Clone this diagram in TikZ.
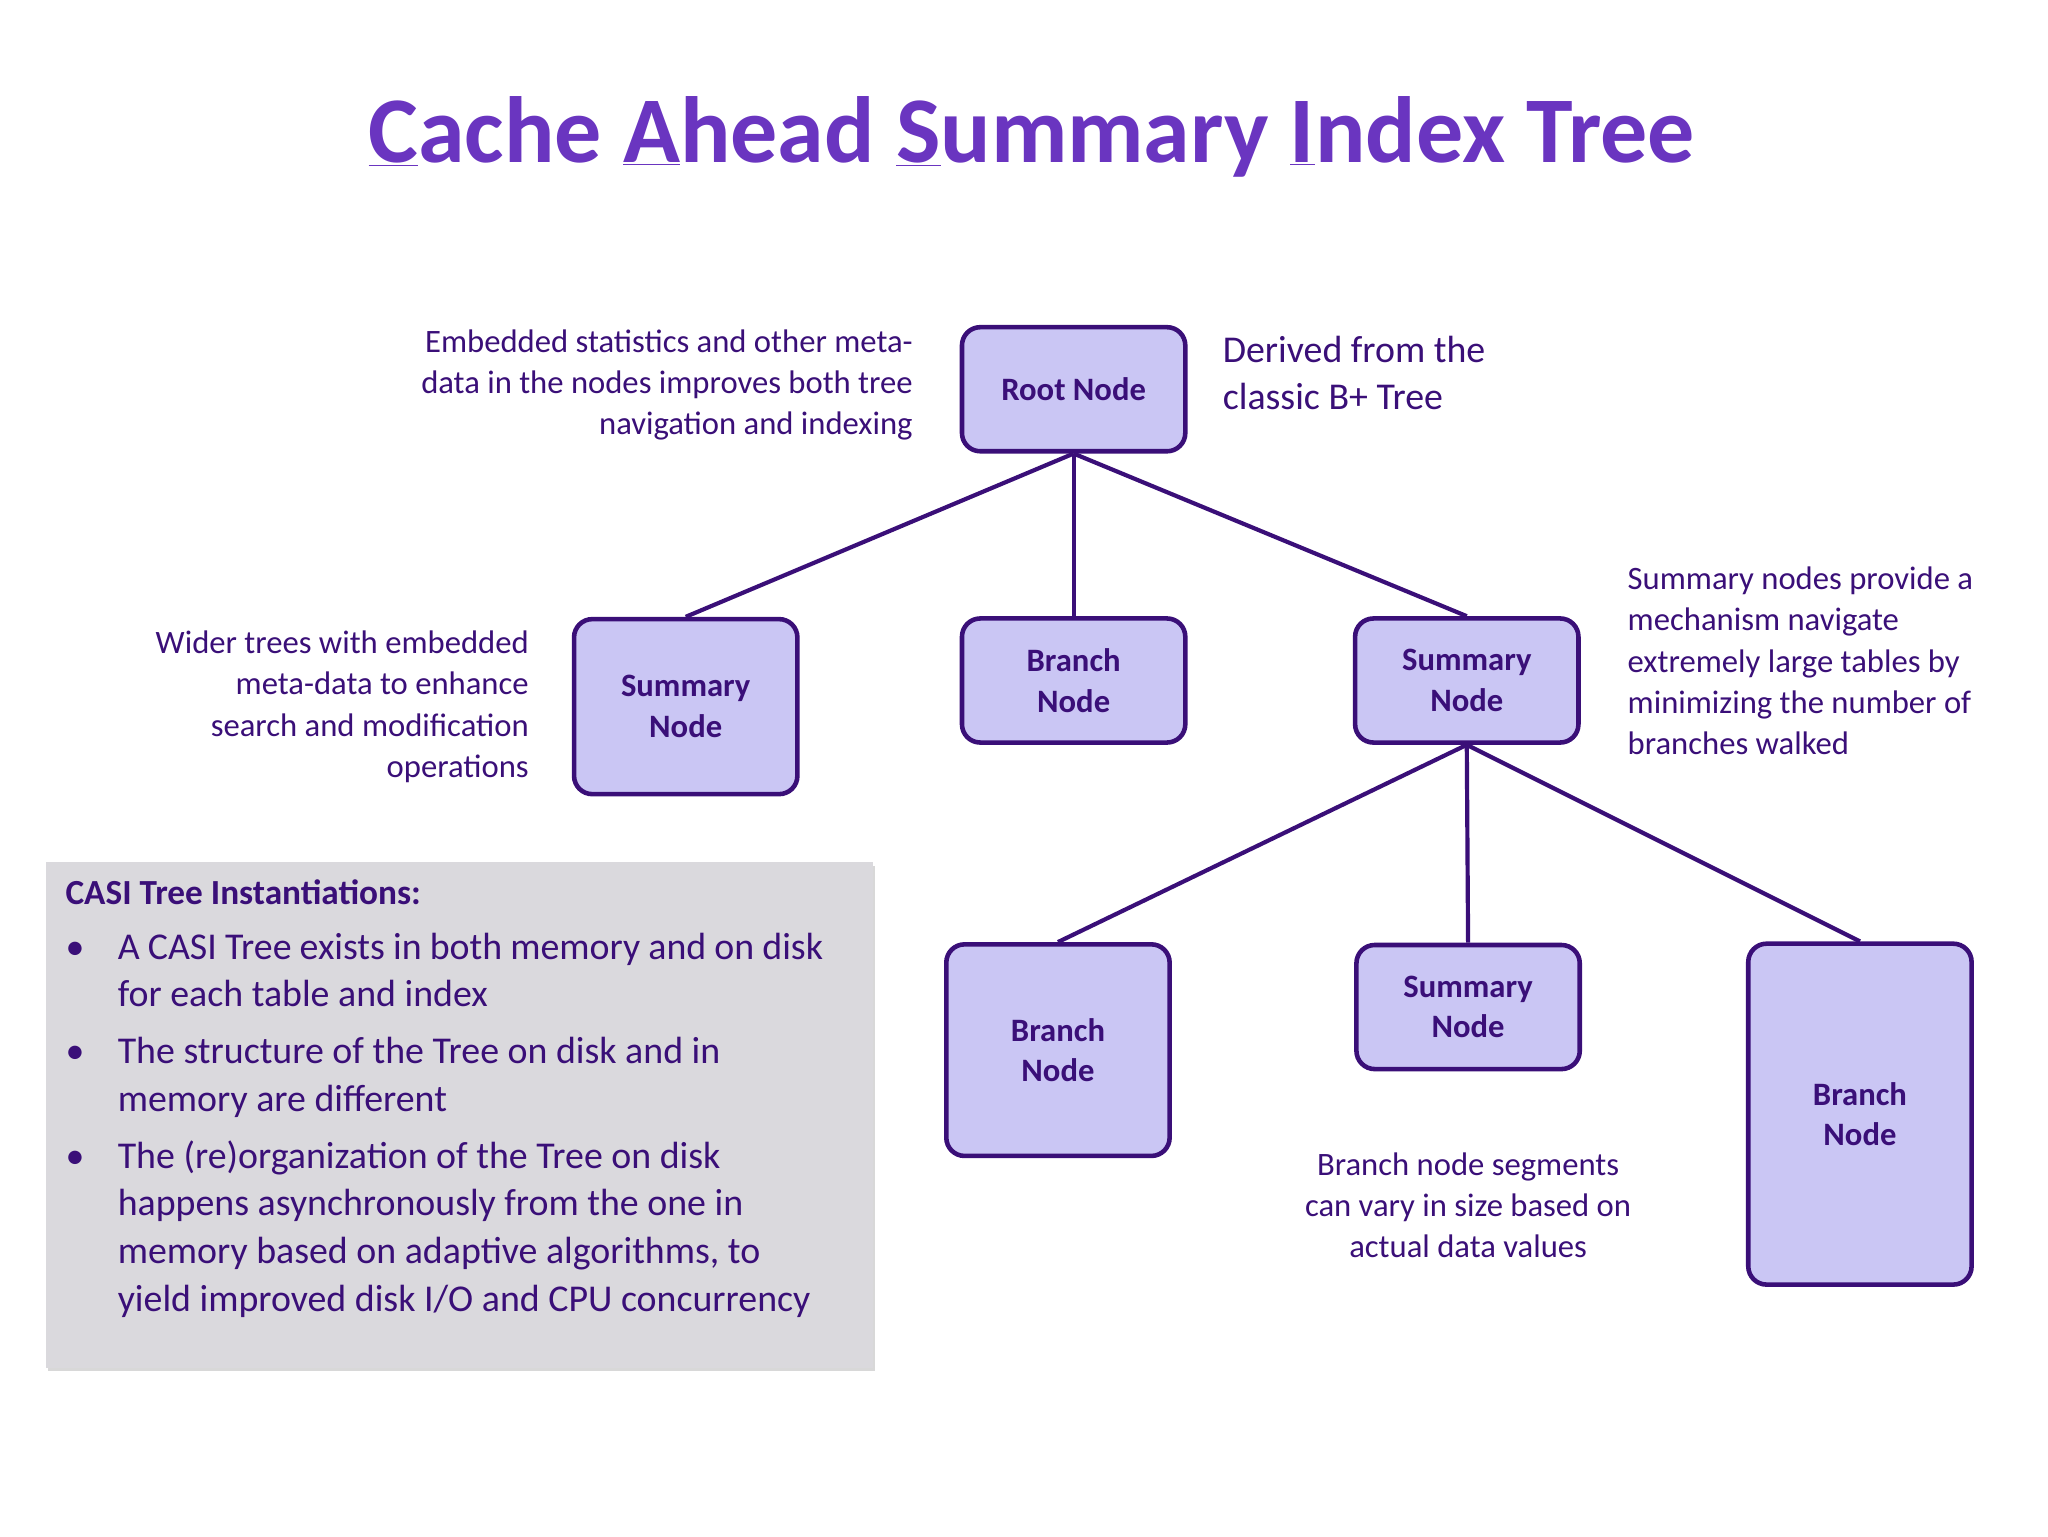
\documentclass[tikz,border=0pt]{standalone}
\usepackage{fontspec}
\setmainfont{Carlito}
\usetikzlibrary{shadows}
\definecolor{tpurple}{HTML}{6A35C0}
\definecolor{dpurple}{HTML}{3A0F78}
\definecolor{tfill}{HTML}{CAC6F4}
\definecolor{gbox}{HTML}{DAD9DD}
\newcommand{\ulx}[1]{\underline{#1}}
\newcommand{\bitem}{\par\noindent\hangindent=40pt\hangafter=1\makebox[40pt][l]{•}}
\tikzset{
 x=1pt,y=-1pt,
 tnode/.style={draw=dpurple,line width=3.5pt,fill=tfill,rounded corners=14pt,inner sep=0pt,
   text=dpurple,font=\fontsize{25}{31}\selectfont\bfseries,align=center},
 edge/.style={draw=dpurple,line width=3.2pt},
 note/.style={text=dpurple,font=\fontsize{25}{31.5}\selectfont,inner sep=0pt},
}
\begin{document}
\begin{tikzpicture}
\useasboundingbox (0,0) rectangle (1568,1176);
\node[text=tpurple,font=\fontsize{72}{80}\selectfont\bfseries] (title) at (790,105)
 {\ulx{C}ache \ulx{A}head \ulx{S}ummary \ulx{I}ndex Tree};
% nodes
\node[tnode,minimum width=171pt,minimum height=95pt] (root) at (822,298) {Root Node};
\node[tnode,minimum width=171pt,minimum height=134pt] (sl) at (525,541) {Summary\\Node};
\node[tnode,minimum width=171pt,minimum height=95pt] (bm) at (822,521) {Branch\\Node};
\node[tnode,minimum width=171pt,minimum height=95pt] (sr) at (1123,521) {Summary\\Node};
\node[tnode,minimum width=171pt,minimum height=162pt] (bl) at (810,804) {Branch\\Node};
\node[tnode,minimum width=171pt,minimum height=95pt] (sb) at (1124,771) {Summary\\Node};
\node[tnode,minimum width=171pt,minimum height=261pt] (br) at (1424,853) {Branch\\Node};
% edges
\draw[edge] (root.south) -- (sl.north);
\draw[edge] (root.south) -- (bm.north);
\draw[edge] (root.south) -- (sr.north);
\draw[edge] (sr.south) -- (bl.north);
\draw[edge] (sr.south) -- (sb.north);
\draw[edge] (sr.south) -- (br.north);
% notes
\node[note,align=right,anchor=north east] (n1) at (699,252)
 {Embedded statistics and other meta-\\data in the nodes improves both tree\\navigation and indexing};
\node[note,align=left,anchor=north west,font=\fontsize{29}{36}\selectfont] (n2) at (936,257)
 {Derived from the\\classic B+ Tree};
\node[note,align=right,anchor=north east] (n3) at (405,483)
 {Wider trees with embedded\\meta-data to enhance\\search and modification\\operations};
\node[note,align=left,anchor=north west] (n4) at (1246,434)
 {Summary nodes provide a\\mechanism navigate\\extremely large tables by\\minimizing the number of\\branches walked};
\node[note,align=center] (n5) at (1124,923)
 {Branch node segments\\can vary in size based on\\actual data values};
% gray box
\node[fill=gbox,minimum width=633pt,minimum height=387pt,inner sep=0pt,
  drop shadow={shadow xshift=2pt,shadow yshift=-3pt,fill=gray!60}] (box) at (351.5,853.5) {};
\node[note,anchor=north west,font=\fontsize{27}{32}\selectfont\bfseries] (bh) at (50,673) {CASI Tree Instantiations:};
\node[note,anchor=north west,align=left,font=\fontsize{29}{36.5}\selectfont] (bt) at (50,714)
 {\begin{minipage}[t]{580pt}\raggedright
 \bitem A CASI Tree exists in both memory and on disk for each table and index\par\vspace{7pt}
 \bitem The structure of the Tree on disk and in memory are different\par\vspace{7pt}
 \bitem The (re)organization of the Tree on disk happens asynchronously from the one in memory based on adaptive algorithms, to yield improved disk I/O and CPU concurrency\par
 \end{minipage}};
\end{tikzpicture}
\end{document}
